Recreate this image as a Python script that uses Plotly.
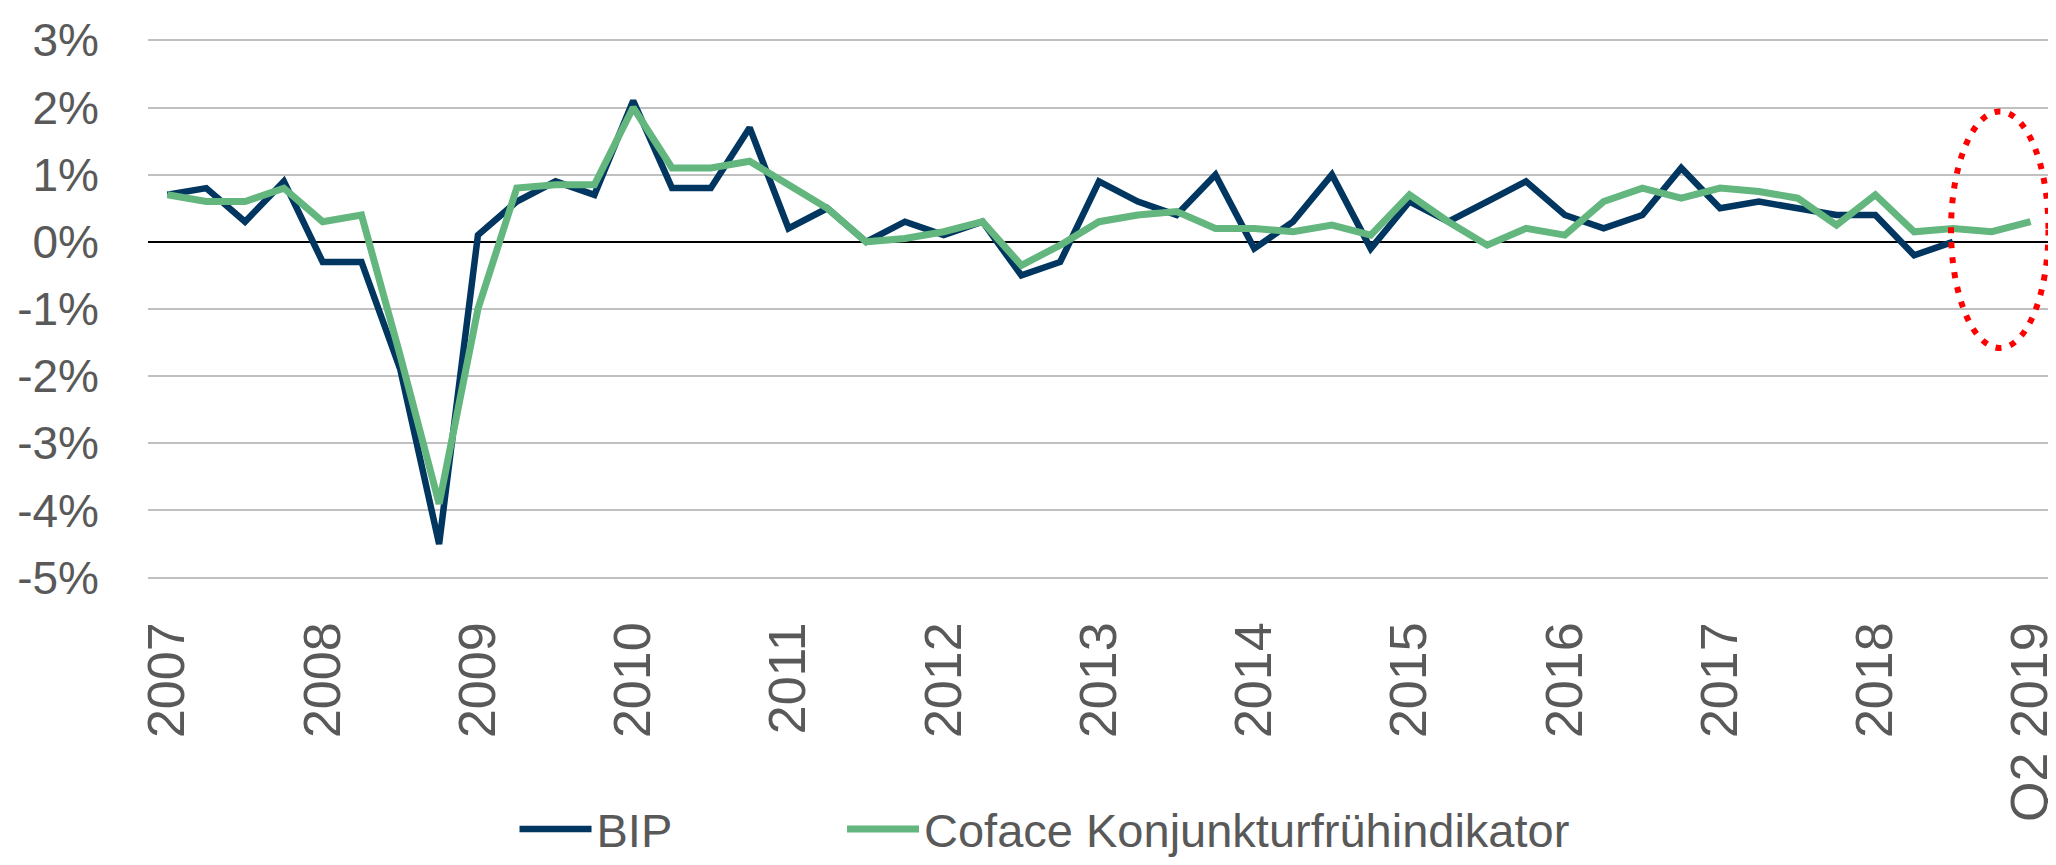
import plotly.graph_objects as go

# quarters Q2 2007 .. Q2 2019
quarters = [f"{y} Q{q}" for y in range(2007, 2020) for q in range(1, 5)][1:50]

bip = [0.7, 0.8, 0.3, 0.9, -0.3, -0.3, -1.9, -4.5, 0.1, 0.6,
       0.9, 0.7, 2.1, 0.8, 0.8, 1.7, 0.2, 0.5, 0.0, 0.3,
       0.1, 0.3, -0.5, -0.3, 0.9, 0.6, 0.4, 1.0, -0.1, 0.3,
       1.0, -0.1, 0.6, 0.3, 0.6, 0.9, 0.4, 0.2, 0.4, 1.1,
       0.5, 0.6, 0.5, 0.4, 0.4, -0.2, 0.0]

coface = [0.7, 0.6, 0.6, 0.8, 0.3, 0.4, -1.7, -3.9, -1.0, 0.8,
          0.85, 0.85, 2.0, 1.1, 1.1, 1.2, 0.85, 0.5, 0.0, 0.05,
          0.15, 0.3, -0.35, -0.05, 0.3, 0.4, 0.45, 0.2, 0.2, 0.15,
          0.25, 0.1, 0.7, 0.3, -0.05, 0.2, 0.1, 0.6, 0.8, 0.65,
          0.8, 0.75, 0.65, 0.25, 0.7, 0.15, 0.2, 0.15, 0.3]

tick_quarters = [f"{y} Q2" for y in range(2007, 2020)]
tick_labels = [str(y) for y in range(2007, 2019)] + ["Q2 2019"]

y_ticks = [-5, -4, -3, -2, -1, 0, 1, 2, 3]
y_labels = ["-5%", "-4%", "-3%", "-2%", "-1%", "0%", "1%", "2%", "3%"]

FONT = "Liberation Sans, Arial, sans-serif"
GREY = "#595959"

fig = go.Figure()
fig.add_trace(go.Scatter(x=quarters[:len(bip)], y=bip, mode="lines", name="BIP",
                         line=dict(color="#00365F", width=6.5),
                         legend="legend", showlegend=True))
fig.add_trace(go.Scatter(x=quarters, y=coface, mode="lines", name="Coface Konjunkturfrühindikator",
                         line=dict(color="#63B67D", width=7),
                         legend="legend2", showlegend=True))

# red dotted ellipse around the forecast quarters
fig.add_shape(type="circle", xref="x", yref="y", x0=45.95, x1=48.46, y0=-1.58, y1=1.94,
              line=dict(color="#FF0000", width=6, dash="6px,9px"))

legend_style = dict(orientation="h", xanchor="left", y=-0.464, yanchor="middle",
                    font=dict(size=47, color=GREY), itemwidth=72,
                    bgcolor="rgba(0,0,0,0)")

fig.update_layout(
    width=2056, height=865,
    margin=dict(l=140, r=6, t=29, b=275, pad=0),
    plot_bgcolor="white", paper_bgcolor="white",
    font=dict(family=FONT, color=GREY),
    showlegend=True,
    legend=dict(x=0.1927, **legend_style),
    legend2=dict(x=0.3649, **legend_style),
    xaxis=dict(type="category", categoryorder="array", categoryarray=quarters,
               range=[-0.5, 48.5], showgrid=False, showline=False, ticks="",
               tickmode="array", tickvals=tick_quarters, ticktext=tick_labels,
               tickangle=-90, tickfont=dict(size=52, color=GREY), ticklabelstandoff=32),
    yaxis=dict(range=[-5.02, 3.02], tickmode="array", tickvals=y_ticks, ticktext=y_labels,
               showgrid=True, gridcolor="#C0C0C0", gridwidth=2,
               zeroline=True, zerolinecolor="#000000", zerolinewidth=1.5,
               showline=False, ticks="",
               tickfont=dict(size=46, color=GREY), ticklabelstandoff=48),
)

fig.write_html("out.html")
